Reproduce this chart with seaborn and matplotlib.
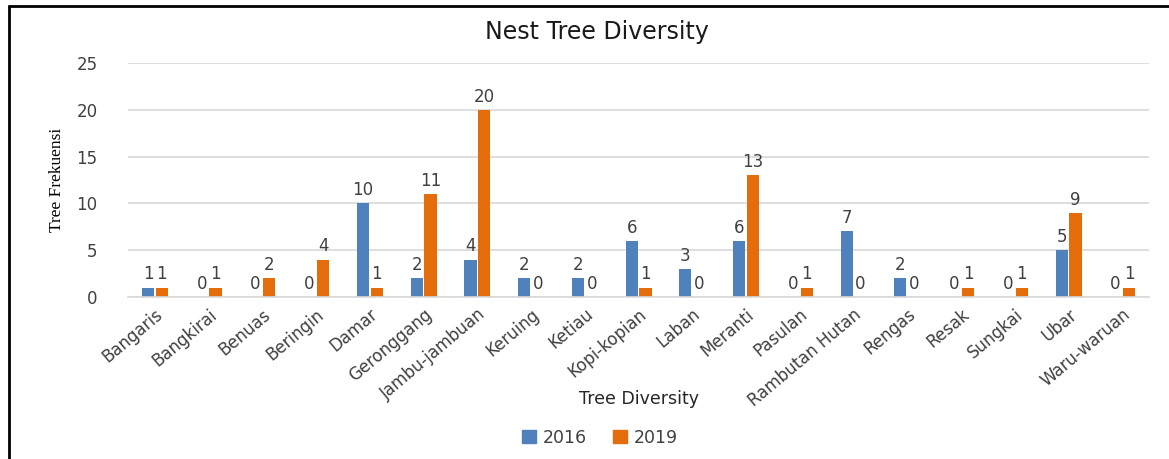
import matplotlib
matplotlib.use("Agg")
import matplotlib.pyplot as plt
import seaborn as sns
import pandas as pd
from matplotlib.lines import Line2D

categories = ["Bangaris", "Bangkirai", "Benuas", "Beringin", "Damar", "Geronggang",
              "Jambu-jambuan", "Keruing", "Ketiau", "Kopi-kopian", "Laban", "Meranti",
              "Pasulan", "Rambutan Hutan", "Rengas", "Resak", "Sungkai", "Ubar", "Waru-waruan"]
values_2016 = [1, 0, 0, 0, 10, 2, 4, 2, 2, 6, 3, 6, 0, 7, 2, 0, 0, 5, 0]
values_2019 = [1, 1, 2, 4, 1, 11, 20, 0, 0, 1, 0, 13, 1, 0, 0, 1, 1, 9, 1]
series = ["2016", "2019"]
yticks = [0, 5, 10, 15, 20, 25]

df = pd.DataFrame({
    "Tree": categories * 2,
    "Year": [series[0]] * len(categories) + [series[1]] * len(categories),
    "Count": values_2016 + values_2019,
})

sns.set_theme(style="white")
plt.rcParams["font.family"] = ["DejaVu Sans"]

fig = plt.figure(figsize=(11.69, 4.59), dpi=100)
ax = fig.add_axes([0.1095, 0.353, 0.8735, 0.510])

palette = {"2016": "#4F81BD", "2019": "#E46C0A"}
sns.barplot(data=df, x="Tree", y="Count", hue="Year", palette=palette,
            width=0.515, gap=0.12, ax=ax, legend=False, saturation=1, linewidth=0)

for c in ax.containers:
    ax.bar_label(c, padding=3, fontsize=12, color="#404040")

ax.set_ylim(0, 25)
ax.set_yticks(yticks)
ax.set_xlim(-0.5, len(categories) - 0.5)
ax.yaxis.grid(True, color="#D9D9D9", linewidth=1.2)
ax.set_axisbelow(True)
for s in ["top", "right", "left"]:
    ax.spines[s].set_visible(False)
ax.spines["bottom"].set_color("#D9D9D9")
ax.spines["bottom"].set_linewidth(1.2)
ax.tick_params(axis="both", length=0, labelsize=12, colors="#404040")
ax.tick_params(axis="y", pad=22)
ax.tick_params(axis="x", pad=6)
plt.setp(ax.get_xticklabels(), rotation=40, ha="right", rotation_mode="anchor")
ax.set_xlabel("")
ax.set_ylabel("")

fig.text(0.511, 0.93, "Nest Tree Diversity", ha="center", va="center", fontsize=17, color="#1a1a1a")
fig.text(0.547, 0.131, "Tree Diversity", ha="center", va="center", fontsize=12.5, color="#262626")
fig.text(0.049, 0.608, "Tree Frekuensi", ha="center", va="center", rotation=90,
         fontsize=12.5, family=["Liberation Serif"], color="black")

handles = [plt.Rectangle((0, 0), 1, 1, color=palette[s]) for s in series]
fig.legend(handles, series, loc="center", bbox_to_anchor=(0.513, 0.046), ncol=2,
           frameon=False, fontsize=12.5, handlelength=0.8, handleheight=0.8,
           columnspacing=1.5, handletextpad=0.4, labelcolor="#404040")

fig.add_artist(Line2D([0.008, 1.0], [0.987, 0.987], color="black", linewidth=2, transform=fig.transFigure))
fig.add_artist(Line2D([0.008, 0.008], [0.0, 0.987], color="black", linewidth=2, transform=fig.transFigure))

fig.savefig("out.png", dpi=100)
